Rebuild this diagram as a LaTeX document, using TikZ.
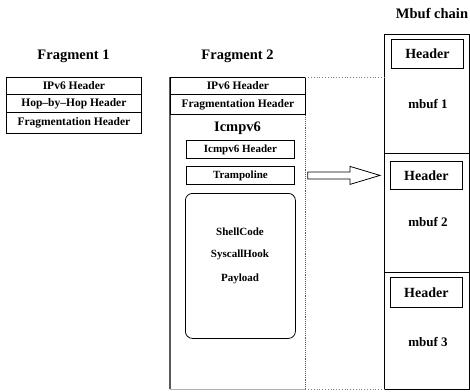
\documentclass[tikz,border=0pt]{standalone}
\usepackage{fontspec}
\setmainfont{Liberation Serif}
\usetikzlibrary{calc}
\begin{document}
\begin{tikzpicture}[x=1pt,y=-1pt,
  rowbox/.style={draw, line width=0.8pt, inner sep=0pt, anchor=north west, font=\bfseries\fontsize{11.5}{13}\selectfont},
  hdrbox/.style={draw, line width=0.8pt, inner sep=0pt, anchor=north west, font=\bfseries\fontsize{14}{16}\selectfont},
  mbufsec/.style={draw, line width=0.8pt, inner sep=0pt, anchor=north west, minimum width=85},
  titletext/.style={font=\bfseries\fontsize{14.5}{16}\selectfont, inner sep=0pt},
  bodytext/.style={font=\bfseries\fontsize{11}{13}\selectfont, inner sep=0pt},
  mbuftext/.style={font=\bfseries\fontsize{13}{15}\selectfont, inner sep=0pt},
  faint/.style={draw=gray, dotted, line width=0.8pt}
]
\useasboundingbox (0,0) rectangle (470,391);
% Fragment 1
\node[titletext] (t1) at (73.5,56) {Fragment 1};
\node[rowbox, minimum width=135, minimum height=17] (f1a) at (6,77) {IPv6 Header};
\node[rowbox, minimum width=135, minimum height=18] (f1b) at (6,94) {Hop--by--Hop Header};
\node[rowbox, minimum width=135, minimum height=21] (f1c) at (6,112) {Fragmentation Header};
% Fragment 2
\node[titletext] (t2) at (237.5,56) {Fragment 2};
\node[inner sep=0pt, anchor=north west, minimum width=135, minimum height=312] (f2) at (170,77) {};
\draw[line width=1.3pt, gray!70!black] (f2.north west) -- (f2.south west);
\draw[line width=0.8pt, gray!60] (f2.south west) -- (f2.south east);
\draw[line width=1.1pt, gray!70!black, densely dotted] (f2.north east) -- (f2.south east);
\node[rowbox, minimum width=135, minimum height=17] (f2a) at (170,77) {IPv6 Header};
\node[rowbox, minimum width=135, minimum height=20] (f2b) at (170,94) {Fragmentation Header};
\node[titletext] (icmp) at (237.5,128) {Icmpv6};
\node[rowbox, font=\bfseries\fontsize{11}{13}\selectfont, minimum width=108, minimum height=18] (icmph) at (186,140) {Icmpv6 Header};
\node[rowbox, font=\bfseries\fontsize{11}{13}\selectfont, minimum width=108, minimum height=18] (tramp) at (186,166) {Trampoline};
\node[draw, line width=0.8pt, rounded corners=7pt, anchor=north west, minimum width=110, minimum height=145, inner sep=0pt] (pay) at (185,193) {};
\node[bodytext] (sc) at (240,232) {ShellCode};
\node[bodytext] (sh) at (240,255) {SyscallHook};
\node[bodytext] (pl) at (240,279) {Payload};
% Mbuf chain
\node[titletext] (t3) at (432,13) {Mbuf chain};
\node[mbufsec, minimum height=119] (m1) at (384,34) {};
\node[mbufsec, minimum height=119] (m2) at (384,153) {};
\node[mbufsec, minimum height=117] (m3) at (384,272) {};
\node[hdrbox, minimum width=72, minimum height=29] (h1) at (391,39) {Header};
\node[hdrbox, minimum width=72, minimum height=28] (h2) at (390,161) {Header};
\node[hdrbox, minimum width=72, minimum height=30] (h3) at (390,277) {Header};
\node[mbuftext] (b1) at (428,104) {mbuf 1};
\node[mbuftext] (b2) at (428,222) {mbuf 2};
\node[mbuftext] (b3) at (428,342) {mbuf 3};
% dotted links
\draw[faint] (f2.north east) -- (f2.north east -| m1.west);
\draw[faint] (f2.south east) -- (f2.south east -| m3.west);
% block arrow
\coordinate (as) at ($(tramp.east)+(13,0)$);
\coordinate (at) at ($(h2.west)+(-10,0)$);
\draw[line width=0.8pt, fill=white]
  ($(as)+(0,-3.5)$) -- ($(at)+(-30,-3.5)$) -- ($(at)+(-30,-9)$) -- (at)
  -- ($(at)+(-30,9)$) -- ($(at)+(-30,3.5)$) -- ($(as)+(0,3.5)$) -- cycle;
\end{tikzpicture}
\end{document}
